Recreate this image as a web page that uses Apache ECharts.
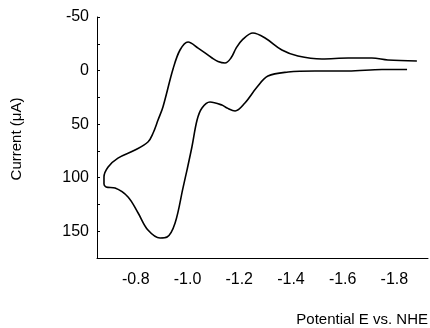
<!DOCTYPE html>
<html>
<head>
<meta charset="utf-8">
<script src="https://cdn.jsdelivr.net/npm/echarts@6/dist/echarts.min.js"></script>
<style>
html,body{margin:0;padding:0;background:#fff;}
#chart{width:430px;height:328px;}
</style>
</head>
<body>
<div id="chart"></div>
<script>
// Potential (V vs. NHE) along the voltammogram path
const potential = [
  -1.849, -1.752, -1.621, -1.493, -1.389, -1.311, -1.269, -1.222, -1.184, -1.153,
  -1.133, -1.087, -1.056, -1.037, -1.017, -0.998, -0.983, -0.952, -0.921, -0.894,
  -0.847, -0.809, -0.770, -0.720, -0.685, -0.677, -0.677, -0.693, -0.731, -0.797,
  -0.847, -0.867, -0.886, -0.905, -0.944, -0.971, -1.002, -1.041, -1.095, -1.118,
  -1.145, -1.168, -1.188, -1.211, -1.253, -1.300, -1.365, -1.427, -1.520, -1.621,
  -1.713, -1.775, -1.887
];
// Current (µA) at each point
const current = [
  -1, -1, 0.4, 0.4, 1.4, 5.1, 15.4, 30.3, 37.8, 35,
  32.2, 29.4, 35, 46.2, 71.4, 92.9, 109, 142.3, 155.4, 156.3,
  148.9, 133, 118, 109.7, 108.7, 106, 99.4, 90, 81.7, 74.2,
  66.7, 58.3, 46.2, 34, -1.4, -19.2, -26.7, -21, -11.7, -8.4,
  -7, -11.7, -21, -28.5, -35, -30.4, -19.2, -13.6, -10.8, -11.7,
  -11.7, -9.9, -8.9
];
const xTickLabels = [-0.8, -1.0, -1.2, -1.4, -1.6, -1.8];
const yTickLabels = [-50, 0, 50, 100, 150];
const yMinorTicks = [-50, -25, 0, 25, 50, 75, 100, 125, 150];

const chart = echarts.init(document.getElementById('chart'), null, {renderer: 'canvas'});
const font = 'Liberation Sans, Arial, sans-serif';
chart.setOption({
  animation: false,
  backgroundColor: '#fff',
  grid: {left: 97, top: 17, right: 2, bottom: 70},
  xAxis: {
    type: 'value',
    min: -1.93, max: -0.65,
    inverse: true,
    position: 'bottom',
    splitLine: {show: false},
    axisLine: {onZero: false, lineStyle: {color: '#000', width: 1}},
    axisTick: {show: false},
    axisLabel: {
      customValues: xTickLabels,
      color: '#000', fontFamily: font, fontSize: 16, margin: 14,
      formatter: v => v.toFixed(1)
    }
  },
  yAxis: {
    type: 'value',
    min: -50, max: 175,
    inverse: true,
    splitLine: {show: false},
    axisLine: {show: true, onZero: false, lineStyle: {color: '#000', width: 1}},
    axisTick: {show: true, inside: true, length: 3, customValues: yMinorTicks, lineStyle: {color: '#000'}},
    axisLabel: {customValues: yTickLabels, color: '#000', fontFamily: font, fontSize: 16, margin: 8}
  },
  graphic: [
    {type: 'text', x: 17, y: 139, rotation: Math.PI / 2,
     style: {text: 'Current (\u03bcA)', fill: '#000', font: '15px ' + font, align: 'center', verticalAlign: 'middle'}},
    {type: 'text', x: 428, y: 320,
     style: {text: 'Potential E vs. NHE', fill: '#000', font: '15px ' + font, align: 'right', verticalAlign: 'middle'}}
  ],
  series: [{
    type: 'line',
    data: potential.map((p, i) => [p, current[i]]),
    symbol: 'none',
    smooth: 0.35,
    lineStyle: {color: '#000', width: 1.6}
  }]
});
</script>
</body>
</html>
